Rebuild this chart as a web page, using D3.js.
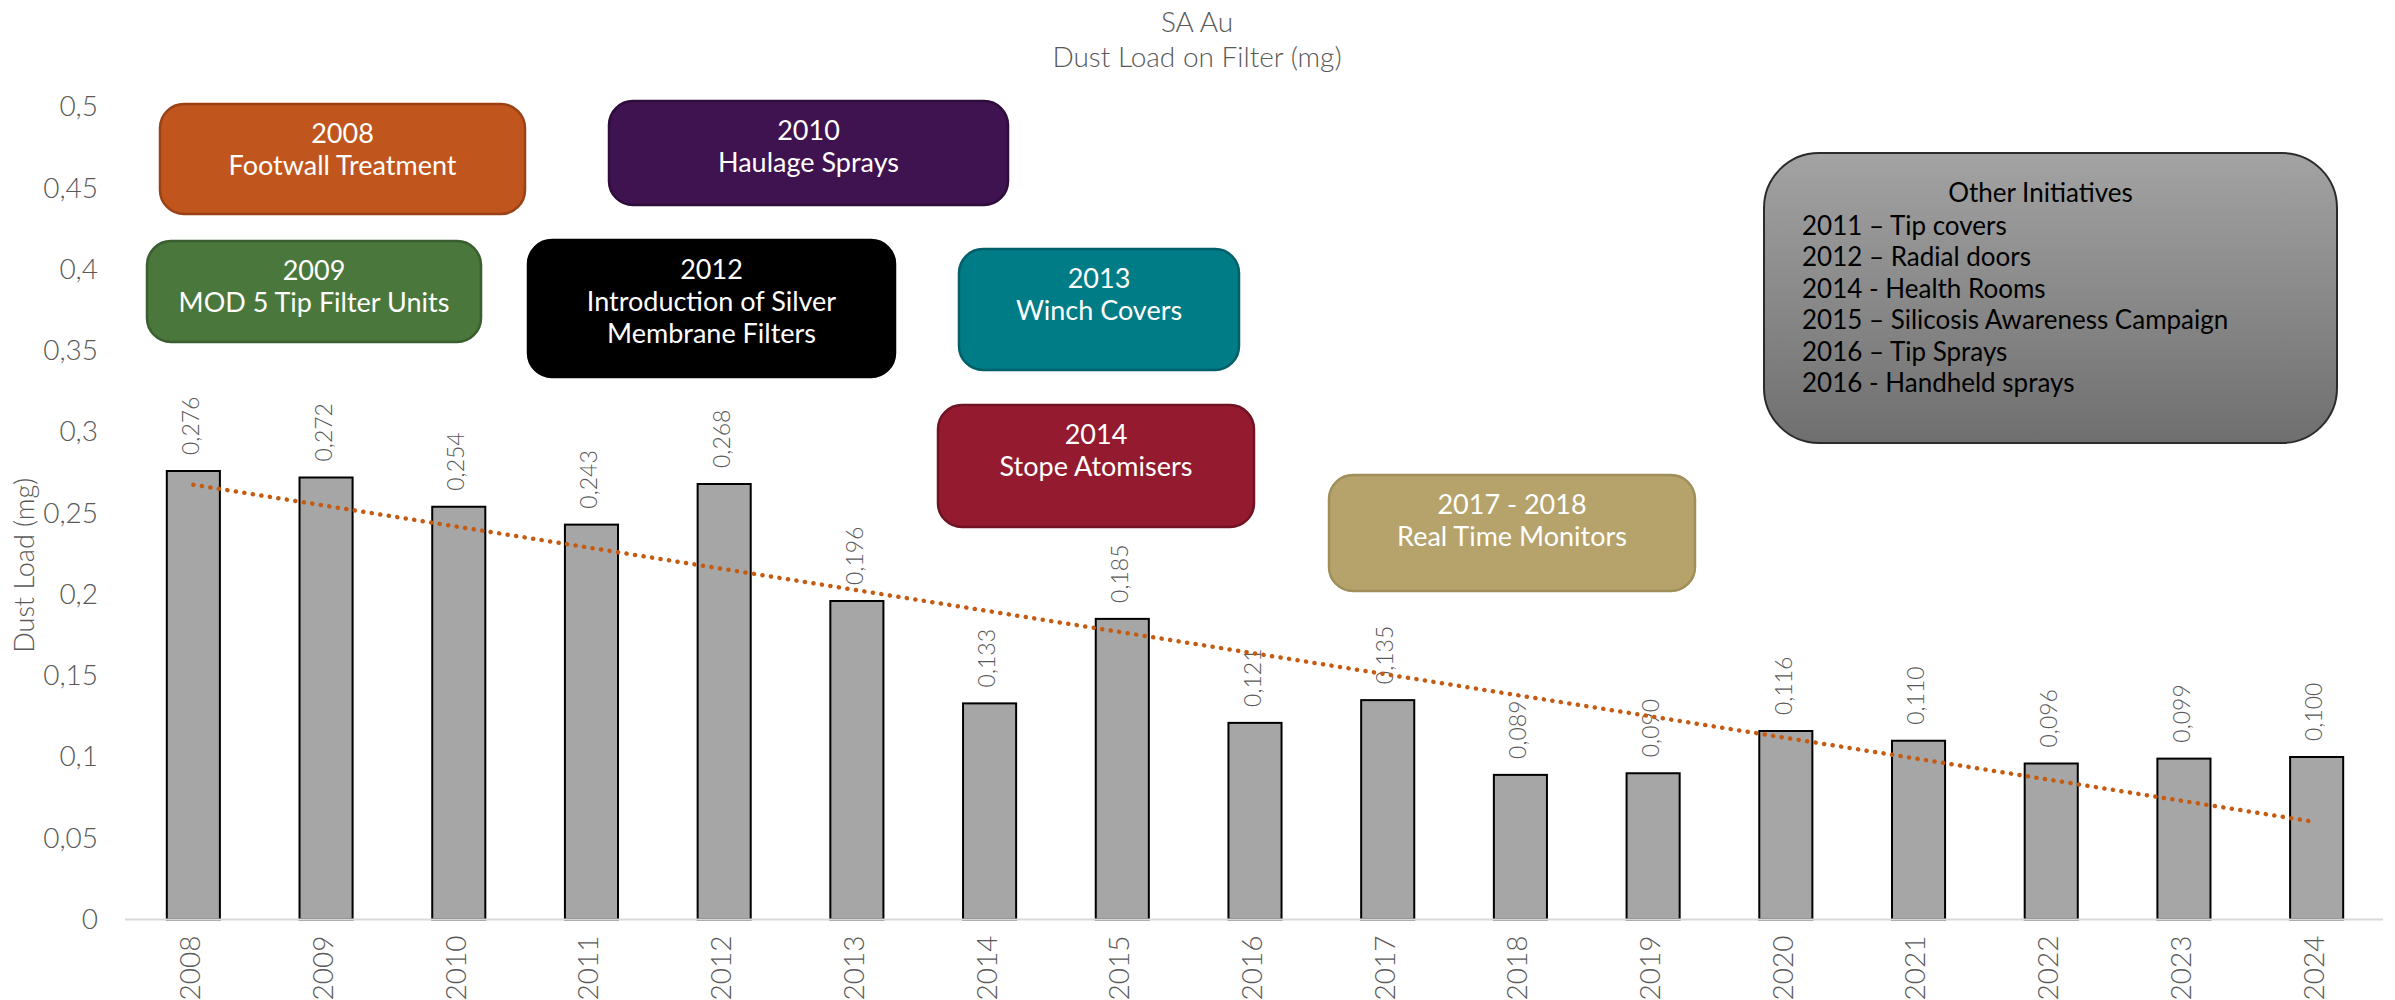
<!DOCTYPE html>
<html>
<head>
<meta charset="utf-8">
<script src="https://cdn.jsdelivr.net/npm/d3@7"></script>
<style>
  html, body { margin: 0; padding: 0; background: #fff; }
  svg { display: block; font-family: Lato, "Open Sans", "DejaVu Sans", sans-serif; font-weight: 300; }
</style>
</head>
<body>
<svg id="chart" width="2395" height="1000"></svg>
<script>
// ---- data ----
const years = ['2008','2009','2010','2011','2012','2013','2014','2015','2016',
               '2017','2018','2019','2020','2021','2022','2023','2024'];
const dustLoad = [0.276, 0.272, 0.254, 0.243, 0.268, 0.196, 0.133, 0.185, 0.121,
                  0.135, 0.089, 0.090, 0.116, 0.110, 0.096, 0.099, 0.100];
const yTickValues = [0, 0.05, 0.1, 0.15, 0.2, 0.25, 0.3, 0.35, 0.4, 0.45, 0.5];

const titleLines = ['SA Au', 'Dust Load on Filter (mg)'];
const yAxisTitle = 'Dust Load (mg)';

// initiative call-outs: heading year and description lines
const initiativeYears = ['2008', '2010', '2009', '2012', '2013', '2014', '2017 - 2018'];
const initiativeText = [
  ['Footwall Treatment'],
  ['Haulage Sprays'],
  ['MOD 5 Tip Filter Units'],
  ['Introduction of Silver', 'Membrane Filters'],
  ['Winch Covers'],
  ['Stope Atomisers'],
  ['Real Time Monitors']
];
const otherTitle = 'Other Initiatives';
const otherItems = [
  '2011 \u2013 Tip covers',
  '2012 \u2013 Radial doors',
  '2014 - Health Rooms',
  '2015 \u2013 Silicosis Awareness Campaign',
  '2016 \u2013 Tip Sprays',
  '2016 - Handheld sprays'
];

// ---- layout & style ----
const FONT = 'Lato, "Open Sans", "DejaVu Sans", sans-serif';
const plot = { left: 127, right: 2383, top: 107, bottom: 919.5 };
const textGrey = '#595959';

const calloutLayout = [
  { x: 160,  y: 104, w: 365, h: 110, fill: '#C0561D', stroke: '#9A4214' },
  { x: 609,  y: 101, w: 399, h: 104, fill: '#3F1250', stroke: '#2E0C3B' },
  { x: 147,  y: 241, w: 334, h: 101, fill: '#4A773C', stroke: '#3A5E2F' },
  { x: 528,  y: 240, w: 367, h: 137, fill: '#000000', stroke: '#000000' },
  { x: 959,  y: 249, w: 280, h: 121, fill: '#007C87', stroke: '#005F68' },
  { x: 938,  y: 405, w: 316, h: 122, fill: '#941A2F', stroke: '#701423' },
  { x: 1329, y: 475, w: 366, h: 116, fill: '#B5A36B', stroke: '#A08F5A' }
];
const otherLayout = { x: 1764, y: 153, w: 573, h: 290 };

const svg = d3.select('#chart');

// ---- scales ----
const x = d3.scaleBand()
  .domain(years)
  .range([plot.left, plot.right])
  .paddingInner(0.6)
  .paddingOuter(0.3);

const y = d3.scaleLinear()
  .domain([0, 0.5])
  .range([plot.bottom, plot.top]);

const commaLocale = d3.formatLocale({ decimal: ',', thousands: ' ', grouping: [3], currency: ['', ''] });
const fmtTick = commaLocale.format('.2~f');
const fmtValue = commaLocale.format('.3f');

// ---- title ----
svg.append('g').selectAll('text')
  .data(titleLines)
  .join('text')
  .attr('x', 1197)
  .attr('y', (d, i) => 32 + i * 35)
  .attr('text-anchor', 'middle')
  .attr('fill', textGrey)
  .attr('font-size', 28)
  .text(d => d);

// ---- y axis ----
const yAxis = svg.append('g')
  .attr('transform', `translate(${plot.left - 26},0)`)
  .call(d3.axisLeft(y).tickValues(yTickValues).tickSize(0).tickFormat(fmtTick))
  .attr('font-family', FONT)
  .attr('font-size', 28);
yAxis.select('.domain').remove();
yAxis.selectAll('text')
  .attr('fill', textGrey);

svg.append('text')
  .attr('transform', `translate(27,${(plot.top + plot.bottom) / 2 + 52}) rotate(-90)`)
  .attr('text-anchor', 'middle')
  .attr('dominant-baseline', 'middle')
  .attr('fill', textGrey)
  .attr('font-size', 27)
  .text(yAxisTitle);

// ---- bars ----
svg.append('g').selectAll('rect')
  .data(dustLoad)
  .join('rect')
  .attr('x', (d, i) => x(years[i]))
  .attr('y', d => y(d))
  .attr('width', x.bandwidth())
  .attr('height', d => y(0) - y(d))
  .attr('fill', '#A6A6A6')
  .attr('stroke', '#000')
  .attr('stroke-width', 2);

// ---- x axis ----
const xAxis = svg.append('g')
  .attr('transform', `translate(0,${plot.bottom})`)
  .call(d3.axisBottom(x).tickSize(0).tickSizeOuter(0))
  .attr('font-family', FONT)
  .attr('font-size', 28);
xAxis.select('.domain')
  .attr('stroke', '#D9D9D9')
  .attr('stroke-width', 2)
  .attr('d', `M${plot.left - 2},0H${plot.right}`);
xAxis.selectAll('text')
  .attr('fill', textGrey)
  .attr('text-anchor', 'end')
  .attr('dominant-baseline', 'middle')
  .attr('transform', 'translate(0,16) rotate(-90)')
  .attr('x', 0)
  .attr('y', 0)
  .attr('dy', null);

// ---- value labels ----
svg.append('g').selectAll('text')
  .data(dustLoad)
  .join('text')
  .attr('transform', (d, i) => `translate(${x(years[i]) + x.bandwidth() / 2},${y(d) - 16}) rotate(-90)`)
  .attr('text-anchor', 'start')
  .attr('dominant-baseline', 'middle')
  .attr('fill', textGrey)
  .attr('font-size', 23)
  .text(d => fmtValue(d));

// ---- linear trend line (least squares over the bar values) ----
const idx = dustLoad.map((d, i) => i);
const meanX = d3.mean(idx), meanY = d3.mean(dustLoad);
const slope = d3.sum(idx, i => (i - meanX) * (dustLoad[i] - meanY)) /
              d3.sum(idx, i => (i - meanX) ** 2);
const intercept = meanY - slope * meanX;
const trendPts = [0, years.length - 1].map(i => [x(years[i]) + x.bandwidth() / 2, y(intercept + slope * i)]);

svg.append('path')
  .attr('d', d3.line()(trendPts))
  .attr('fill', 'none')
  .attr('stroke', '#C55A11')
  .attr('stroke-width', 4.5)
  .attr('stroke-linecap', 'round')
  .attr('stroke-dasharray', '0.1 8.5');

// ---- initiative call-outs ----
const callouts = svg.append('g').selectAll('g')
  .data(calloutLayout)
  .join('g')
  .attr('transform', d => `translate(${d.x},${d.y})`);

callouts.append('rect')
  .attr('width', d => d.w)
  .attr('height', d => d.h)
  .attr('rx', 24)
  .attr('fill', d => d.fill)
  .attr('stroke', d => d.stroke)
  .attr('stroke-width', 2.5);

callouts.each(function (d, i) {
  const lines = [initiativeYears[i]].concat(initiativeText[i]);
  d3.select(this).selectAll('text')
    .data(lines)
    .join('text')
    .attr('x', d.w / 2)
    .attr('y', (t, j) => 32 + j * 32)
    .attr('text-anchor', 'middle')
    .attr('dominant-baseline', 'middle')
    .attr('fill', '#fff')
    .attr('font-size', 27)
    .attr('font-weight', 400)
    .text(t => t);
});

// ---- other initiatives panel ----
const defs = svg.append('defs');
const grad = defs.append('linearGradient')
  .attr('id', 'otherFill')
  .attr('x1', 0).attr('y1', 0).attr('x2', 0).attr('y2', 1);
grad.append('stop').attr('offset', '0%').attr('stop-color', '#A3A3A3');
grad.append('stop').attr('offset', '100%').attr('stop-color', '#6F6F6F');

const other = svg.append('g')
  .attr('transform', `translate(${otherLayout.x},${otherLayout.y})`)
  .attr('font-weight', 400);
other.append('rect')
  .attr('width', otherLayout.w)
  .attr('height', otherLayout.h)
  .attr('rx', 55)
  .attr('fill', 'url(#otherFill)')
  .attr('stroke', '#2B2B2B')
  .attr('stroke-width', 2);
other.append('text')
  .attr('x', otherLayout.w / 2 - 10)
  .attr('y', 42)
  .attr('text-anchor', 'middle')
  .attr('dominant-baseline', 'middle')
  .attr('fill', '#000')
  .attr('font-size', 26)
  .text(otherTitle);
other.append('g').selectAll('text')
  .data(otherItems)
  .join('text')
  .attr('x', 38)
  .attr('y', (d, i) => 75 + i * 31.5)
  .attr('dominant-baseline', 'middle')
  .attr('fill', '#000')
  .attr('font-size', 26)
  .text(d => d);
</script>
</body>
</html>
